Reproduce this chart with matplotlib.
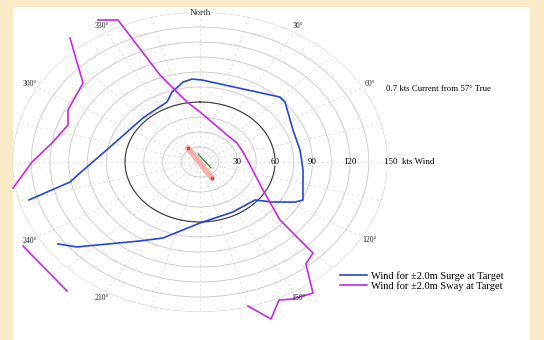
import numpy as np
import matplotlib
matplotlib.use('Agg')
import matplotlib.pyplot as plt
from matplotlib.patches import Rectangle

plt.rcParams['font.family'] = ['Liberation Serif', 'DejaVu Serif']

# wind limit curves, compass bearing (deg) and wind speed (kts)
surge_dir = [234.2, 229.2, 211.3, 201.3, 180.0, 152.2, 130.8, 124.8, 117.8, 114.8,
             95.5, 81.5, 66.7, 48.6, 44.6, 1.1, -4.4, -9.6, -17.7, -23.7,
             -46.0, -78.2, -96.5, -100.9, -105.5]
surge_kts = [140.1, 130.0, 92.4, 81.6, 61.0, 56.5, 58.1, 70.1, 85.9, 90.7,
             82.8, 80.9, 81.0, 90.7, 91.2, 82.0, 83.2, 81.1, 73.5, 65.6,
             63.4, 73.5, 96.6, 105.9, 142.0]

# sway curve has gaps where the limit runs off the chart
sway_dir = [330.1, 335.2, 339.8, 343.7, 350.2, 360.0, 374.9, 398.7, 417.3, 433.8,
            454.3, 479.1, 492.2, 495.2, 500.3, 505.4, 511.8, 515.4, 520.1, 525.1,
            np.nan, 219.5, 239.3,
            np.nan, 260.1, 270.0, 279.1, 289.3, 296.2, 310.2, 320.0]
sway_kts = [163.8, 156.4, 92.7, 77.1, 60.9, 50.0, 40.4, 34.6, 35.2, 35.8,
            40.1, 57.7, 86.4, 128.3, 132.6, 159.2, 155.5, 151.8, 167.0, 149.0,
            np.nan, 167.2, 164.6,
            np.nan, 151.8, 134.4, 119.9, 111.9, 117.7, 122.5, 161.8]

# current vector drawn at the origin
current_dir = [325.6, 149.0]
current_len = [17.0, 18.7]
drift_dir = [348.7, 124.0]
drift_len = [8.2, 10.6]

limit_ring = 60
ring_step = 15
r_max = 150
range_labels = [30, 60, 90, 120]
bearing_labels = {0: 'North', 30: '30°', 60: '60°', 120: '120°', 150: '150°',
                  210: '210°', 240: '240°', 300: '300°', 330: '330°'}

fig = plt.figure(figsize=(5.44, 3.40), dpi=100)
fig.patch.set_facecolor('#fbebc9')
fig.patches.append(Rectangle((13 / 544, 0), 517 / 544, 333 / 340,
                             transform=fig.transFigure, facecolor='white',
                             edgecolor='none', zorder=-1))

ax = fig.add_axes([12.5 / 544, 28 / 340, 375 / 544, 300 / 340], projection='polar')
ax.set_zorder(1)
ax.set_aspect('auto')
ax.set_facecolor('none')
ax.set_theta_zero_location('N')
ax.set_theta_direction(-1)
ax.set_ylim(0, r_max)

ax.set_rgrids(np.arange(ring_step, r_max + 1, ring_step), labels=[])
ax.set_thetagrids(np.arange(0, 360, 15), labels=[])
ax.yaxis.grid(True, color='#c8c8c8', lw=0.6, ls='-')
ax.xaxis.grid(True, color='#d2d2d2', lw=0.5, ls=(0, (3, 4)))
ax.spines['polar'].set_visible(False)

full = np.radians(np.linspace(0, 360, 361))
ax.plot(full, np.full_like(full, limit_ring), color='#3a3a3a', lw=0.8)

ax.plot(np.radians(surge_dir), surge_kts, color='#2446dc', lw=1.2, clip_on=False,
        label='Wind for ±2.0m Surge at Target')
ax.plot(np.radians(sway_dir), sway_kts, color='#c828e8', lw=1.2, clip_on=False,
        label='Wind for ±2.0m Sway at Target')

ax.plot(np.radians(current_dir), current_len, color='#f8b0ac', lw=4.2,
        solid_capstyle='round')
ax.plot(np.radians(current_dir), current_len, 'o', color='#e2404a', ms=1.6)
ax.plot(np.radians(drift_dir), drift_len, color='#2a8a34', lw=0.9)

for r in range_labels:
    ax.text(np.radians(90), r, str(r), ha='center', va='center', fontsize=6.5,
            bbox=dict(facecolor='white', edgecolor='none', pad=0.3))
ax.text(np.radians(90), r_max - 3, '150  kts Wind', ha='left', va='center',
        fontsize=6.5)

for b, txt in bearing_labels.items():
    rr = r_max - 1 if b == 0 else 157
    ax.text(np.radians(b), rr, txt, ha='center', va='center',
            fontsize=6.5 if b == 0 else 5.5, color='#222222',
            bbox=dict(facecolor='white', edgecolor='none', pad=0.5) if b == 0 else None)

fig.text(386 / 544, 1 - 89 / 340, '0.7 kts Current from 57° True', fontsize=6.3,
         ha='left', va='center')

fig.legend(loc='upper left', bbox_to_anchor=(335 / 544, 1 - 266 / 340),
           frameon=False, fontsize=7.5, handlelength=2.6, handletextpad=0.35,
           labelspacing=0.05, borderpad=0)

fig.savefig('out.png', dpi=100, facecolor=fig.get_facecolor())
